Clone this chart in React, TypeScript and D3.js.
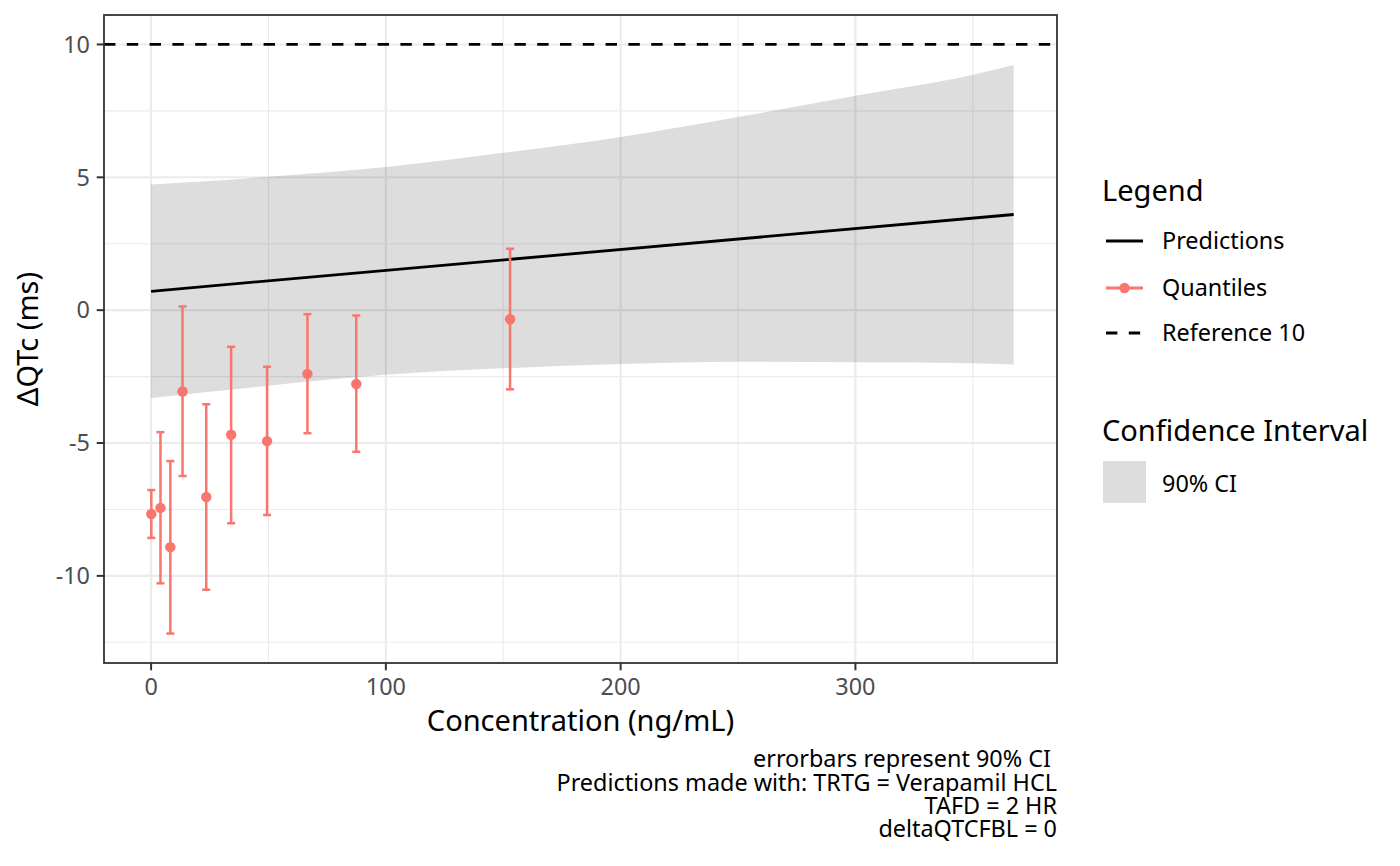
import React from "react";
import * as d3 from "d3";

// ---- data ----
const ribbonConc = [0, 25, 50, 75, 100, 150, 200, 250, 300, 350, 367.4];
const ribbonUpper = [4.73, 4.86, 5.02, 5.19, 5.39, 5.92, 6.52, 7.27, 8.07, 8.86, 9.23];
const ribbonLower = [-3.31, -3.07, -2.84, -2.62, -2.43, -2.19, -2.03, -1.94, -1.96, -2.0, -2.04];

const predConc = [0, 367.4];
const predValue = [0.71, 3.6];

const quantConc = [0.1, 4.0, 8.2, 13.4, 23.5, 34.1, 49.4, 66.6, 87.4, 152.9];
const quantMid = [-7.67, -7.44, -8.92, -3.06, -7.03, -4.69, -4.93, -2.4, -2.78, -0.34];
const quantLo = [-8.57, -10.28, -12.17, -6.24, -10.52, -8.02, -7.71, -4.63, -5.33, -2.98];
const quantHi = [-6.77, -4.59, -5.68, 0.14, -3.54, -1.38, -2.13, -0.15, -0.2, 2.31];

const referenceValue = 10;
const errorbarWidth = 3.4;

const xTicks = [0, 100, 200, 300];
const xMinor = [50, 150, 250, 350];
const yTicks = [-10, -5, 0, 5, 10];
const yMinor = [-12.5, -7.5, -2.5, 2.5, 7.5];

const legendItems = ["Predictions", "Quantiles", "Reference 10"];
const ciLabel = "90% CI";
const captionLines = [
  "errorbars represent 90% CI ",
  "Predictions made with: TRTG = Verapamil HCL",
  "TAFD = 2 HR",
  "deltaQTCFBL = 0",
];

// ---- layout ----
const W = 1400;
const H = 866;
const P = { left: 104, right: 1057, top: 15, bottom: 663 };
const FONT = "'Noto Sans', 'Open Sans', sans-serif";
const RED = "#F8766D";
const TXT = 23.4;
const TTL = 29;

function expand(lo: number, hi: number): [number, number] {
  const s = hi - lo;
  return [lo - 0.05 * s, hi + 0.05 * s];
}

export default function App() {
  const xMinD = Math.min(d3.min(quantConc)! - errorbarWidth / 2, d3.min(ribbonConc)!);
  const xMaxD = Math.max(d3.max(quantConc)! + errorbarWidth / 2, d3.max(ribbonConc)!);
  const x = d3.scaleLinear().domain(expand(xMinD, xMaxD)).range([P.left, P.right]);
  const yMinD = Math.min(d3.min(quantLo)!, d3.min(ribbonLower)!);
  const yMaxD = Math.max(d3.max(quantHi)!, d3.max(ribbonUpper)!, referenceValue);
  const y = d3.scaleLinear().domain(expand(yMinD, yMaxD)).range([P.bottom, P.top]);

  const area = d3
    .area<number>()
    .x((_, i) => x(ribbonConc[i]))
    .y0((_, i) => y(ribbonLower[i]))
    .y1((_, i) => y(ribbonUpper[i]))
    .curve(d3.curveMonotoneX);
  const line = d3
    .line<number>()
    .x((_, i) => x(predConc[i]))
    .y((d) => y(d));

  const capHalf = (x(errorbarWidth) - x(0)) / 2;

  const legX = 1102;
  const keyYs = [241, 288, 333];

  return (
    <svg
      width={W}
      height={H}
      style={{ position: "absolute", left: 0, top: 0, background: "#fff" }}
      fontFamily={FONT}
    >
      <rect x={0} y={0} width={W} height={H} fill="#fff" />
      {/* grid */}
      {xMinor.map((t) => (
        <line key={"xm" + t} x1={x(t)} x2={x(t)} y1={P.top} y2={P.bottom} stroke="#EBEBEB" strokeWidth={1.1} />
      ))}
      {yMinor.map((t) => (
        <line key={"ym" + t} x1={P.left} x2={P.right} y1={y(t)} y2={y(t)} stroke="#EBEBEB" strokeWidth={1.1} />
      ))}
      {xTicks.map((t) => (
        <line key={"xg" + t} x1={x(t)} x2={x(t)} y1={P.top} y2={P.bottom} stroke="#EBEBEB" strokeWidth={2.1} />
      ))}
      {yTicks.map((t) => (
        <line key={"yg" + t} x1={P.left} x2={P.right} y1={y(t)} y2={y(t)} stroke="#EBEBEB" strokeWidth={2.1} />
      ))}

      {/* ribbon */}
      <path d={area(ribbonConc)!} fill="#000" fillOpacity={0.133} />
      {/* predictions */}
      <path d={line(predValue)!} fill="none" stroke="#000" strokeWidth={2.8} />
      {/* reference */}
      <line
        x1={P.left}
        x2={P.right}
        y1={y(referenceValue)}
        y2={y(referenceValue)}
        stroke="#000"
        strokeWidth={2.8}
        strokeDasharray="11.4 11.4"
      />
      {/* error bars */}
      {quantConc.map((c, i) => {
        const cx = x(c);
        return (
          <g key={"eb" + i} stroke={RED} strokeWidth={2.5}>
            <line x1={cx} x2={cx} y1={y(quantLo[i])} y2={y(quantHi[i])} />
            <line x1={cx - capHalf} x2={cx + capHalf} y1={y(quantLo[i])} y2={y(quantLo[i])} />
            <line x1={cx - capHalf} x2={cx + capHalf} y1={y(quantHi[i])} y2={y(quantHi[i])} />
          </g>
        );
      })}
      {quantConc.map((c, i) => (
        <circle key={"pt" + i} cx={x(c)} cy={y(quantMid[i])} r={5.2} fill={RED} />
      ))}

      {/* border */}
      <rect
        x={P.left}
        y={P.top}
        width={P.right - P.left}
        height={P.bottom - P.top}
        fill="none"
        stroke="#333333"
        strokeWidth={1.8}
      />

      {/* axes ticks */}
      {xTicks.map((t) => (
        <g key={"xt" + t}>
          <line x1={x(t)} x2={x(t)} y1={P.bottom} y2={P.bottom + 7.3} stroke="#333333" strokeWidth={2} />
          <text x={x(t)} y={695} textAnchor="middle" fontSize={TXT} fill="#4D4D4D">
            {t}
          </text>
        </g>
      ))}
      {yTicks.map((t) => (
        <g key={"yt" + t}>
          <line x1={P.left - 7.3} x2={P.left} y1={y(t)} y2={y(t)} stroke="#333333" strokeWidth={2} />
          <text x={90} y={y(t) + 8.3} textAnchor="end" fontSize={TXT} fill="#4D4D4D">
            {t}
          </text>
        </g>
      ))}

      {/* axis titles */}
      <text x={(P.left + P.right) / 2} y={731} textAnchor="middle" fontSize={TTL} fill="#000">
        Concentration (ng/mL)
      </text>
      <text
        transform={`translate(38,${(P.top + P.bottom) / 2}) rotate(-90)`}
        textAnchor="middle"
        fontSize={TTL}
        fill="#000"
      >
        ΔQTc (ms)
      </text>

      {/* legend */}
      <text x={legX} y={200.5} fontSize={TTL} fill="#000">
        Legend
      </text>
      <line x1={1106} x2={1143} y1={keyYs[0]} y2={keyYs[0]} stroke="#000" strokeWidth={2.8} />
      <line x1={1106} x2={1143} y1={keyYs[1]} y2={keyYs[1]} stroke={RED} strokeWidth={2.8} />
      <circle cx={1124.5} cy={keyYs[1]} r={5.2} fill={RED} />
      <line
        x1={1106}
        x2={1143}
        y1={keyYs[2]}
        y2={keyYs[2]}
        stroke="#000"
        strokeWidth={2.8}
        strokeDasharray="11.4 11.4"
      />
      {legendItems.map((lab, i) => (
        <text key={lab} x={1162} y={keyYs[i] + 8.3} fontSize={TXT} fill="#000">
          {lab}
        </text>
      ))}
      <text x={legX} y={440.5} fontSize={TTL} fill="#000">
        Confidence Interval
      </text>
      <rect x={1103} y={461} width={43} height={42} fill="#DDDDDD" />
      <text x={1162} y={492} fontSize={TXT} fill="#000">
        {ciLabel}
      </text>

      {/* caption */}
      {captionLines.map((l, i) => (
        <text
          key={"cap" + i}
          x={P.right}
          y={767.3 + i * 23.3}
          textAnchor="end"
          fontSize={TXT}
          fill="#000"
          style={{ whiteSpace: "pre" }}
        >
          {l}
        </text>
      ))}
    </svg>
  );
}
